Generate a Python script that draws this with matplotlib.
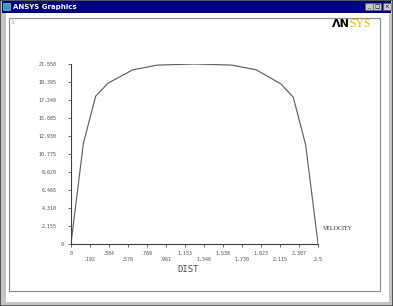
import matplotlib
matplotlib.use("Agg")
import matplotlib.pyplot as plt
from matplotlib.patches import Rectangle

# velocity profile across the channel (nodal values)
dist = [0, 0.125, 0.25, 0.375, 0.625, 0.875, 1.25, 1.625, 1.875, 2.125, 2.25, 2.375, 2.5]
velocity = [0, 12.0, 17.7, 19.25, 20.85, 21.42, 21.55, 21.42, 20.85, 19.15, 17.55, 11.85, 0]

x_ticks = [2.5 * i / 13 for i in range(14)]
x_labels = ['0', '.192', '.384', '.576', '.769', '.961', '1.153', '1.346',
            '1.538', '1.730', '1.923', '2.115', '2.307', '2.5']
y_ticks = [2.155 * i for i in range(11)]
y_labels = ['0', '2.155', '4.310', '6.465', '8.620', '10.775', '12.930',
            '15.085', '17.240', '19.395', '21.550']

W, H = 393, 306
fig = plt.figure(figsize=(W / 100, H / 100), dpi=100)
fig.patch.set_facecolor('#c4c4c4')


def fx(x):
    return x / W


def fy(y):
    return 1 - y / H


def rect(x0, y0, x1, y1, **kw):
    fig.patches.append(Rectangle((fx(x0), fy(y1)), (x1 - x0) / W, (y1 - y0) / H,
                                 transform=fig.transFigure, **kw))


# window chrome
rect(0, 0, W, H, facecolor='none', edgecolor='#404040', lw=1.2)
rect(2, 1, 391, 12.5, facecolor='#000080', edgecolor='none')
rect(3, 3, 10, 10, facecolor='#2aa0b0', edgecolor='#d0d0d0', lw=0.4)
fig.text(fx(13), fy(7), 'ANSYS Graphics', color='white', fontsize=5,
         fontweight='bold', va='center', ha='left')
for bx, glyph in [(365, '_'), (373, '□'), (383, '×')]:
    rect(bx, 3, bx + 7.5, 10, facecolor='#c8c8c8', edgecolor='#606060', lw=0.4)
    fig.text(fx(bx + 3.75), fy(6.8), glyph, fontsize=4, ha='center', va='center',
             color='black')
rect(6, 13, 389, 302, facecolor='white', edgecolor='none')
rect(8.5, 18, 379.5, 290.5, facecolor='none', edgecolor='#8a8a8a', lw=0.8)

# window number and logo
fig.text(fx(12), fy(23), '1', color='#30c8e0', fontsize=4.5, ha='center', va='center')
fig.text(fx(332), fy(24), 'ΛN', color='black', fontsize=8, fontweight='bold',
         ha='left', va='center')
fig.text(fx(349), fy(24), 'SYS', color='#d8c000', fontsize=8.5,
         family='Liberation Serif', ha='left', va='center')

# plot
ax = fig.add_axes([fx(71), fy(243.5), (318 - 71) / W, (243.5 - 64) / H])
ax.set_zorder(5)
ax.set_facecolor('none')
ax.plot(dist, velocity, color='#606060', lw=0.85)
ax.set_xlim(0, 2.5)
ax.set_ylim(0, 21.55)
for s in ['top', 'right']:
    ax.spines[s].set_visible(False)
for s in ['left', 'bottom']:
    ax.spines[s].set_color('#404040')
    ax.spines[s].set_linewidth(0.8)

ax.set_xticks(x_ticks, [lab if i % 2 == 0 else '\n' + lab for i, lab in enumerate(x_labels)])
ax.set_yticks(y_ticks, y_labels)
ax.tick_params(axis='both', direction='out', length=2.5, width=0.6, color='#505050',
               labelsize=3.6, labelcolor='#505050')
ax.tick_params(axis='y', pad=8)
ax.tick_params(axis='x', pad=3)
for lab in ax.get_xticklabels() + ax.get_yticklabels():
    lab.set_family('DejaVu Sans Mono')
ax.yaxis.get_major_ticks()[0].set_pad(3)

fig.text(fx(188), fy(269), 'DIST', fontsize=6.5, family='DejaVu Sans Mono',
         color='#505050', ha='center', va='center')
fig.text(fx(323), fy(229), 'VELOCITY', fontsize=4.3, family='Liberation Serif',
         color='#202020', ha='left', va='center')

fig.savefig('out.png', dpi=100)
